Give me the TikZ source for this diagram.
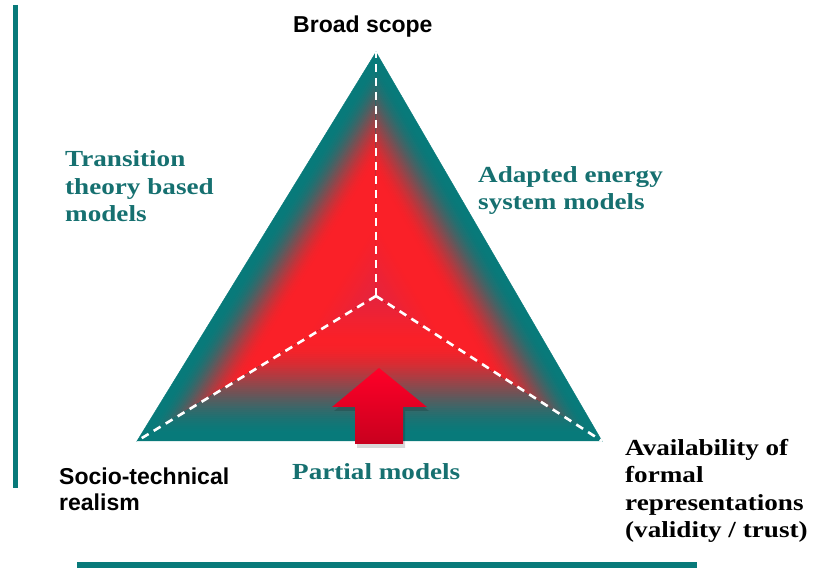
\documentclass[tikz,border=0pt]{standalone}
\usepackage{fontspec}
\usetikzlibrary{calc}
\newfontfamily\tserif[FakeStretch=1.18]{Liberation Serif}
\newfontfamily\tsans{Liberation Sans}
\definecolor{tealc}{RGB}{8,122,122}
\definecolor{tealtxt}{RGB}{22,112,112}
\definecolor{redc}{RGB}{250,32,40}
\definecolor{crimc}{RGB}{228,36,62}
\definecolor{arrtop}{RGB}{255,0,40}
\definecolor{arrbot}{RGB}{200,0,30}
\tikzset{
  serlab/.style={anchor=base west, inner sep=0pt, align=left, font=\tserif\bfseries\fontsize{23}{27.6}\selectfont},
  sanslab/.style={anchor=base west, inner sep=0pt, align=left, font=\tsans\bfseries\fontsize{23}{26}\selectfont, text=black},
  dashline/.style={draw=white, line width=2.6pt, dash pattern=on 8pt off 6pt},
  rule/.style={draw=tealc, line width=5pt}
}
\begin{document}
\begin{tikzpicture}[x=1pt,y=-1pt]
\useasboundingbox (0,0) rectangle (823,569);
% frame rules
\draw[rule] (15.5,5) -- (15.5,488);
\draw[rule] (77,565) -- (697,565);
% triangle vertices
\coordinate (T) at (376,52);
\coordinate (L) at (137,441);
\coordinate (R) at (602,441);
\coordinate (O) at (376,296);
% shaded faces
\foreach \a/\b/\s in {T/L/0.55,L/R/0.32,R/T/0.5}{
  \foreach \k in {70,69,...,1}{
    \pgfmathsetmacro\t{\k/70}
    \pgfmathsetmacro\u{min(1,max(0,(\t-\s)/(0.97-\s)))}
    \pgfmathsetmacro\p{100*\u*\u*(3-2*\u)}
    \pgfmathsetmacro\q{100*min(1,\t/0.3)}
    \colorlet{rr}{redc!\q!crimc}
    \colorlet{cc}{tealc!\p!rr}
    \filldraw[fill=cc, draw=cc, line width=0.4pt] (O) -- ($(O)!\t!(\a)$) -- ($(O)!\t!(\b)$) -- cycle;
  }
}
% dashed ridges
\draw[dashline] (O) -- (T);
\draw[dashline] (O) -- (L);
\draw[dashline] (O) -- (R);
% arrow shadow and arrow
\fill[black, opacity=0.15] (357,448) -- (357,411) -- (334,411) -- (381,372) -- (429,411) -- (405,411) -- (405,448) -- cycle;
\shade[top color=arrtop, bottom color=arrbot] (355,444) -- (355,407) -- (332,407) -- (379,368) -- (427,407) -- (403,407) -- (403,444) -- cycle;
% labels (anchored at the baseline of the last line)
\node[sanslab] (broad) at (293,33) {Broad scope};
\node[sanslab] (socio) at (59,511) {Socio-technical\\realism};
\node[serlab, text=black] (avail) at (625,538) {Availability of\\formal\\representations\\(validity / trust)};
\node[serlab, text=tealtxt] (trans) at (65,222) {Transition\\theory based\\models};
\node[serlab, text=tealtxt] (adapt) at (478,210) {Adapted energy\\system models};
\node[serlab, text=tealtxt] (partial) at (292,480) {Partial models};
\end{tikzpicture}
\end{document}
